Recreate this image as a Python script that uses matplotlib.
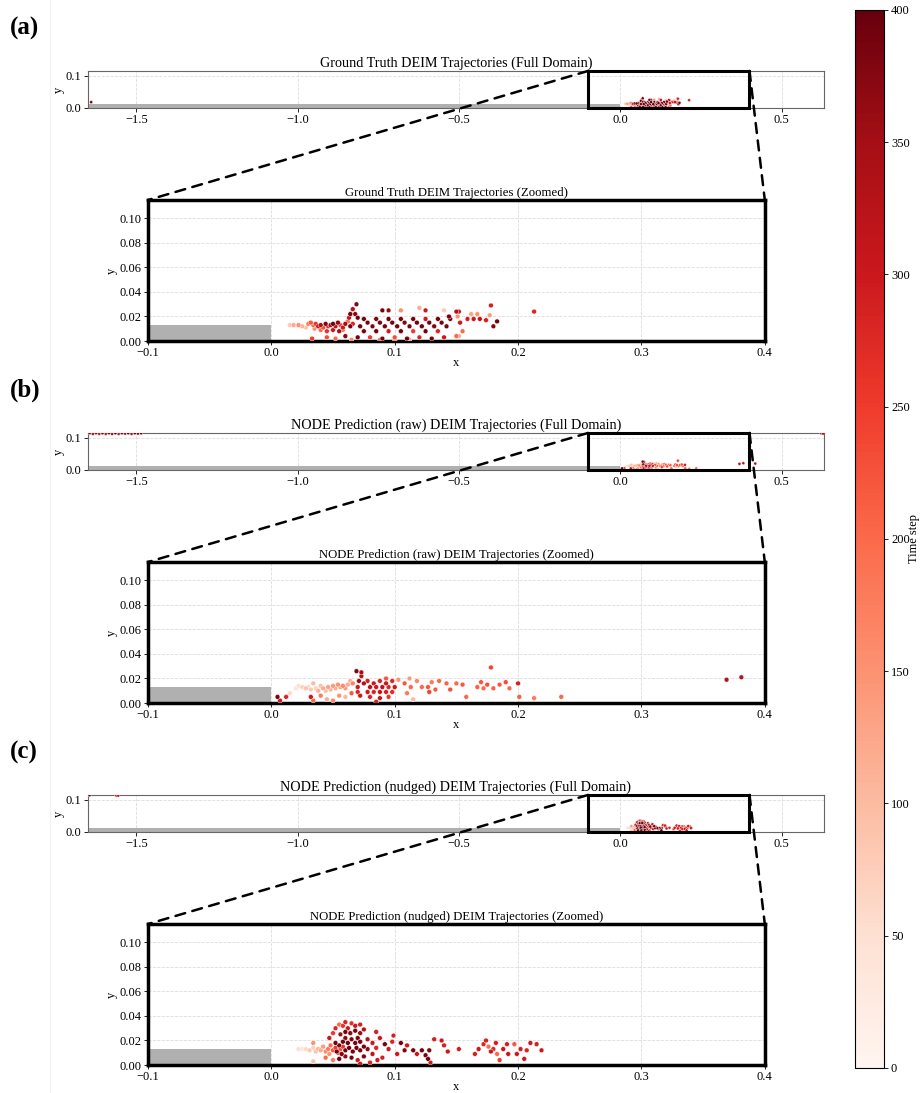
import numpy as np
import matplotlib.pyplot as plt
from matplotlib.patches import Rectangle, ConnectionPatch
from matplotlib.lines import Line2D

plt.rcParams['font.family'] = ['Liberation Serif', 'DejaVu Serif']

# step geometry (backward-facing step)
step_x0, step_x1, step_h = -1.65, 0.0, 0.0127
full_xlim = (-1.65, 0.63)
zoom_xlim = (-0.1, 0.4)
ylim = (0.0, 0.115)
t_max = 400

titles = ["Ground Truth", "NODE Prediction (raw)", "NODE Prediction (nudged)"]
labels = ["(a)", "(b)", "(c)"]

# ---- DEIM point positions: (x, y, time step) ----
gt_pts = [
    (-1.64, 0.018, 390),
    (0.015, 0.013, 80), (0.018, 0.013, 120), (0.022, 0.013, 150), (0.025, 0.012, 110),
    (0.030, 0.014, 180), (0.032, 0.015, 220), (0.034, 0.013, 200), (0.036, 0.014, 260),
    (0.038, 0.012, 300), (0.040, 0.013, 340), (0.042, 0.011, 230), (0.044, 0.014, 380),
    (0.046, 0.012, 270), (0.048, 0.013, 360), (0.050, 0.014, 390), (0.052, 0.012, 320),
    (0.054, 0.015, 370), (0.056, 0.013, 240), (0.058, 0.011, 300), (0.060, 0.014, 350),
    (0.062, 0.016, 200), (0.064, 0.012, 390), (0.066, 0.014, 280), (0.035, 0.010, 150),
    (0.040, 0.009, 200), (0.045, 0.008, 260), (0.050, 0.009, 300), (0.055, 0.008, 350),
    (0.058, 0.009, 180), (0.028, 0.011, 90), (0.033, 0.002, 250), (0.045, 0.003, 230),
    (0.052, 0.002, 200), (0.060, 0.004, 370), (0.065, 0.001, 160),
    (0.066, 0.026, 330), (0.069, 0.030, 380), (0.064, 0.022, 390), (0.068, 0.022, 370),
    (0.070, 0.019, 390), (0.063, 0.019, 310),
    (0.075, 0.018, 390), (0.085, 0.018, 380), (0.095, 0.018, 395), (0.105, 0.018, 385),
    (0.115, 0.018, 390), (0.125, 0.018, 300), (0.135, 0.018, 390), (0.145, 0.018, 380),
    (0.078, 0.015, 390), (0.088, 0.015, 385), (0.098, 0.015, 390), (0.108, 0.015, 380),
    (0.118, 0.015, 395), (0.128, 0.015, 390), (0.138, 0.015, 385),
    (0.072, 0.012, 390), (0.082, 0.012, 380), (0.092, 0.012, 390), (0.102, 0.012, 395),
    (0.112, 0.012, 385), (0.122, 0.012, 390), (0.132, 0.012, 380), (0.142, 0.012, 390),
    (0.075, 0.008, 385), (0.085, 0.008, 390), (0.095, 0.008, 300), (0.105, 0.008, 390),
    (0.115, 0.008, 250), (0.125, 0.008, 390), (0.135, 0.008, 280),
    (0.070, 0.003, 390), (0.080, 0.003, 250), (0.090, 0.002, 390), (0.100, 0.003, 230),
    (0.110, 0.002, 390), (0.120, 0.003, 280), (0.130, 0.002, 390), (0.140, 0.003, 300),
    (0.150, 0.004, 200),
    (0.090, 0.025, 390), (0.095, 0.025, 360), (0.105, 0.025, 150), (0.120, 0.027, 120),
    (0.125, 0.025, 300), (0.140, 0.025, 80), (0.150, 0.024, 330), (0.088, 0.001, 200),
    (0.100, 0.001, 160), (0.112, 0.001, 120),
    (0.144, 0.020, 390), (0.151, 0.020, 150), (0.153, 0.015, 300), (0.155, 0.008, 200),
    (0.152, 0.004, 120), (0.152, 0.024, 300), (0.159, 0.018, 290), (0.164, 0.018, 300),
    (0.169, 0.018, 310), (0.162, 0.022, 130), (0.167, 0.022, 150), (0.174, 0.017, 290),
    (0.177, 0.021, 140), (0.178, 0.029, 290), (0.180, 0.012, 380), (0.183, 0.016, 390),
    (0.213, 0.024, 280),
]

raw_pts = [
    (-1.645, 0.114, 380), (-1.635, 0.112, 330), (-1.625, 0.114, 360), (-1.615, 0.112, 300),
    (-1.605, 0.114, 390), (-1.595, 0.112, 320), (-1.585, 0.114, 370), (-1.575, 0.112, 340),
    (-1.565, 0.114, 390), (-1.555, 0.112, 310), (-1.545, 0.114, 380), (-1.535, 0.113, 350),
    (-1.525, 0.114, 390), (-1.515, 0.112, 330), (-1.505, 0.114, 395), (-1.495, 0.113, 370),
    (-1.485, 0.114, 390), (0.622, 0.114, 300), (0.628, 0.113, 320), (0.418, 0.020, 340),
    (0.369, 0.019, 330), (0.381, 0.021, 320),
    (0.005, 0.005, 390), (0.007, 0.002, 300), (0.012, 0.005, 280), (0.015, 0.008, 60),
    (0.020, 0.012, 40), (0.022, 0.014, 50), (0.025, 0.013, 70), (0.028, 0.012, 90),
    (0.030, 0.013, 60), (0.032, 0.011, 80), (0.034, 0.016, 100), (0.036, 0.012, 70),
    (0.038, 0.010, 110), (0.040, 0.014, 90), (0.042, 0.012, 120), (0.044, 0.010, 100),
    (0.046, 0.013, 130), (0.048, 0.011, 110), (0.050, 0.014, 140), (0.052, 0.012, 120),
    (0.054, 0.015, 150), (0.056, 0.013, 130), (0.058, 0.014, 160), (0.060, 0.012, 140),
    (0.062, 0.015, 120), (0.064, 0.018, 110), (0.066, 0.016, 170), (0.032, 0.005, 300),
    (0.034, 0.002, 200), (0.040, 0.006, 180), (0.045, 0.003, 120), (0.050, 0.002, 160),
    (0.055, 0.006, 150), (0.060, 0.005, 100), (0.065, 0.008, 220),
    (0.069, 0.026, 380), (0.073, 0.025, 350), (0.073, 0.022, 330), (0.071, 0.018, 360),
    (0.075, 0.016, 330), (0.070, 0.013, 300), (0.070, 0.009, 280), (0.072, 0.006, 300),
    (0.078, 0.018, 290), (0.083, 0.016, 300), (0.088, 0.018, 280), (0.093, 0.016, 310),
    (0.098, 0.018, 280), (0.080, 0.013, 330), (0.085, 0.013, 300), (0.090, 0.013, 320),
    (0.095, 0.013, 280), (0.100, 0.013, 300), (0.078, 0.009, 300), (0.083, 0.009, 280),
    (0.088, 0.009, 310), (0.093, 0.009, 290), (0.098, 0.009, 270), (0.080, 0.005, 280),
    (0.088, 0.004, 300), (0.095, 0.005, 260), (0.085, 0.001, 290), (0.093, 0.020, 220),
    (0.103, 0.019, 150), (0.108, 0.016, 220), (0.112, 0.020, 140), (0.113, 0.013, 200),
    (0.110, 0.008, 180), (0.115, 0.003, 100), (0.118, 0.018, 160), (0.122, 0.013, 200),
    (0.127, 0.013, 220), (0.130, 0.017, 180), (0.128, 0.009, 240), (0.133, 0.011, 220),
    (0.136, 0.018, 200), (0.142, 0.016, 210), (0.145, 0.011, 230), (0.150, 0.016, 200),
    (0.155, 0.015, 220), (0.158, 0.005, 200), (0.167, 0.013, 210), (0.170, 0.017, 220),
    (0.172, 0.012, 200), (0.175, 0.015, 230), (0.178, 0.029, 240), (0.180, 0.012, 210),
    (0.185, 0.015, 220), (0.190, 0.017, 230), (0.193, 0.012, 200), (0.200, 0.016, 290),
    (0.201, 0.005, 210), (0.213, 0.004, 180), (0.235, 0.005, 200),
]

nudged_pts = [
    (-1.645, 0.114, 390), (-1.562, 0.113, 300), (-1.556, 0.113, 320),
    (0.022, 0.013, 50), (0.025, 0.013, 40), (0.028, 0.013, 60), (0.031, 0.012, 80),
    (0.034, 0.014, 70), (0.034, 0.018, 150), (0.036, 0.011, 90), (0.038, 0.013, 110),
    (0.040, 0.012, 120), (0.042, 0.015, 140), (0.044, 0.011, 160), (0.046, 0.013, 180),
    (0.048, 0.016, 200), (0.047, 0.009, 150), (0.050, 0.012, 220), (0.052, 0.014, 250),
    (0.054, 0.010, 240), (0.056, 0.013, 230), (0.058, 0.015, 260), (0.034, 0.003, 90),
    (0.044, 0.006, 200), (0.050, 0.004, 180), (0.047, 0.022, 300), (0.050, 0.026, 250),
    (0.052, 0.030, 280), (0.055, 0.033, 200), (0.058, 0.032, 260), (0.060, 0.035, 280),
    (0.062, 0.030, 300), (0.065, 0.034, 270), (0.068, 0.032, 300), (0.072, 0.033, 290),
    (0.052, 0.018, 390), (0.055, 0.016, 380), (0.058, 0.019, 390), (0.060, 0.022, 370),
    (0.062, 0.018, 395), (0.065, 0.021, 380), (0.068, 0.018, 390), (0.070, 0.022, 385),
    (0.072, 0.019, 390), (0.056, 0.025, 350), (0.060, 0.027, 390), (0.064, 0.026, 370),
    (0.068, 0.028, 390), (0.072, 0.026, 360), (0.075, 0.029, 330), (0.053, 0.011, 390),
    (0.057, 0.009, 380), (0.060, 0.012, 390), (0.063, 0.014, 395), (0.066, 0.011, 385),
    (0.069, 0.014, 390), (0.072, 0.012, 380), (0.075, 0.015, 390), (0.078, 0.013, 370),
    (0.055, 0.005, 390), (0.060, 0.007, 360), (0.065, 0.006, 390), (0.070, 0.004, 300),
    (0.075, 0.007, 380), (0.072, 0.001, 300), (0.080, 0.002, 280), (0.078, 0.021, 330),
    (0.082, 0.018, 300), (0.085, 0.014, 280), (0.082, 0.009, 320), (0.086, 0.004, 300),
    (0.085, 0.027, 290), (0.088, 0.022, 300), (0.092, 0.017, 390), (0.095, 0.013, 300),
    (0.090, 0.006, 290), (0.098, 0.019, 280), (0.099, 0.024, 290), (0.102, 0.009, 300),
    (0.105, 0.018, 390), (0.108, 0.012, 380), (0.110, 0.016, 300), (0.115, 0.012, 390),
    (0.118, 0.009, 300), (0.122, 0.012, 390), (0.125, 0.008, 390), (0.128, 0.012, 380),
    (0.127, 0.005, 390), (0.129, 0.002, 300), (0.132, 0.021, 290), (0.138, 0.020, 300),
    (0.140, 0.016, 290), (0.143, 0.011, 300), (0.152, 0.013, 290),
    (0.165, 0.009, 290), (0.168, 0.013, 300), (0.172, 0.017, 280), (0.174, 0.020, 290),
    (0.176, 0.015, 200), (0.178, 0.011, 300), (0.180, 0.013, 280), (0.182, 0.018, 290),
    (0.183, 0.009, 200), (0.185, 0.004, 250), (0.188, 0.013, 300), (0.191, 0.017, 290),
    (0.192, 0.009, 300), (0.197, 0.017, 220), (0.199, 0.009, 300), (0.202, 0.013, 290),
    (0.205, 0.005, 300), (0.207, 0.012, 280), (0.210, 0.018, 300), (0.215, 0.017, 290),
    (0.219, 0.012, 300),
]

all_pts = [gt_pts, raw_pts, nudged_pts]

fig = plt.figure(figsize=(9.22, 10.93), dpi=100)

# faint panel edge at left
fig.add_artist(Line2D([0.054, 0.054], [0.0, 1.0], color='#f2f2f2', lw=0.8))

cmap = plt.get_cmap('Reds')
norm = plt.Normalize(0, t_max)
dy = 0.3312

for i in range(3):
    pts = np.array(sorted(all_pts[i], key=lambda p: p[2]))
    px, py, pt = pts[:, 0], pts[:, 1], pts[:, 2]

    ax_full = fig.add_axes([0.0954, 0.9012 - i * dy, 0.798, 0.0339])
    ax_zoom = fig.add_axes([0.1605, 0.688 - i * dy, 0.669, 0.129])

    for ax, s in [(ax_full, 5), (ax_zoom, 12)]:
        ax.add_patch(Rectangle((step_x0, 0), step_x1 - step_x0, step_h,
                               facecolor='#b0b0b0', edgecolor='none', zorder=1))
        ax.scatter(px, py, c=pt, cmap=cmap, norm=norm, s=s,
                   edgecolors='white', linewidths=0.3, zorder=3)
        ax.set_ylim(*ylim)
        ax.grid(True, linestyle='--', color='#dddddd', linewidth=0.6)
        ax.set_axisbelow(True)
        ax.tick_params(labelsize=9, length=3, width=0.6, pad=1.5)
        ax.set_ylabel('y', fontsize=9, labelpad=1)

    ax_full.set_xlim(*full_xlim)
    ax_full.set_xticks([-1.5, -1.0, -0.5, 0.0, 0.5])
    ax_full.set_yticks([0.0, 0.1])
    ax_full.set_yticklabels(['0.0', '0.1'])
    for sp in ax_full.spines.values():
        sp.set_color('#666666')
        sp.set_linewidth(0.8)
    ax_full.set_title(titles[i] + ' DEIM Trajectories (Full Domain)', fontsize=10.2, pad=3)

    ax_zoom.set_xlim(*zoom_xlim)
    ax_zoom.set_xticks([-0.1, 0.0, 0.1, 0.2, 0.3, 0.4])
    ax_zoom.set_yticks([0.0, 0.02, 0.04, 0.06, 0.08, 0.10])
    ax_zoom.set_yticklabels(['0.00', '0.02', '0.04', '0.06', '0.08', '0.10'])
    for sp in ax_zoom.spines.values():
        sp.set_color('black')
        sp.set_linewidth(2.5)
    ax_zoom.set_xlabel('x', fontsize=9, labelpad=-1.5)
    ax_zoom.set_title(titles[i] + ' DEIM Trajectories (Zoomed)', fontsize=9.2, pad=3)

    # zoom box on full-domain axes
    ax_full.add_patch(Rectangle((zoom_xlim[0], ylim[0]), zoom_xlim[1] - zoom_xlim[0],
                                ylim[1] - ylim[0], fill=False, edgecolor='black',
                                linewidth=2.2, zorder=5, clip_on=False))
    for xc in zoom_xlim:
        con = ConnectionPatch(xyA=(xc, ylim[1]), coordsA=ax_full.transData,
                              xyB=(xc, ylim[1]), coordsB=ax_zoom.transData,
                              color='black', linestyle=(0, (4, 3)), linewidth=1.8)
        fig.add_artist(con)

    fig.text(0.011, 0.974 - i * dy, labels[i], fontsize=18, fontweight='bold',
             ha='left', va='center')

cax = fig.add_axes([0.9273, 0.0229, 0.0315, 0.968])
cb = fig.colorbar(plt.cm.ScalarMappable(norm=norm, cmap=cmap), cax=cax)
cb.set_ticks([0, 50, 100, 150, 200, 250, 300, 350, 400])
cb.ax.tick_params(labelsize=9, length=3, width=0.6, pad=2)
cb.set_label('Time step', fontsize=9)
cb.ax.yaxis.set_label_coords(1.84, 0.5)
cb.outline.set_linewidth(0.8)

fig.savefig('out.png', dpi=100)
